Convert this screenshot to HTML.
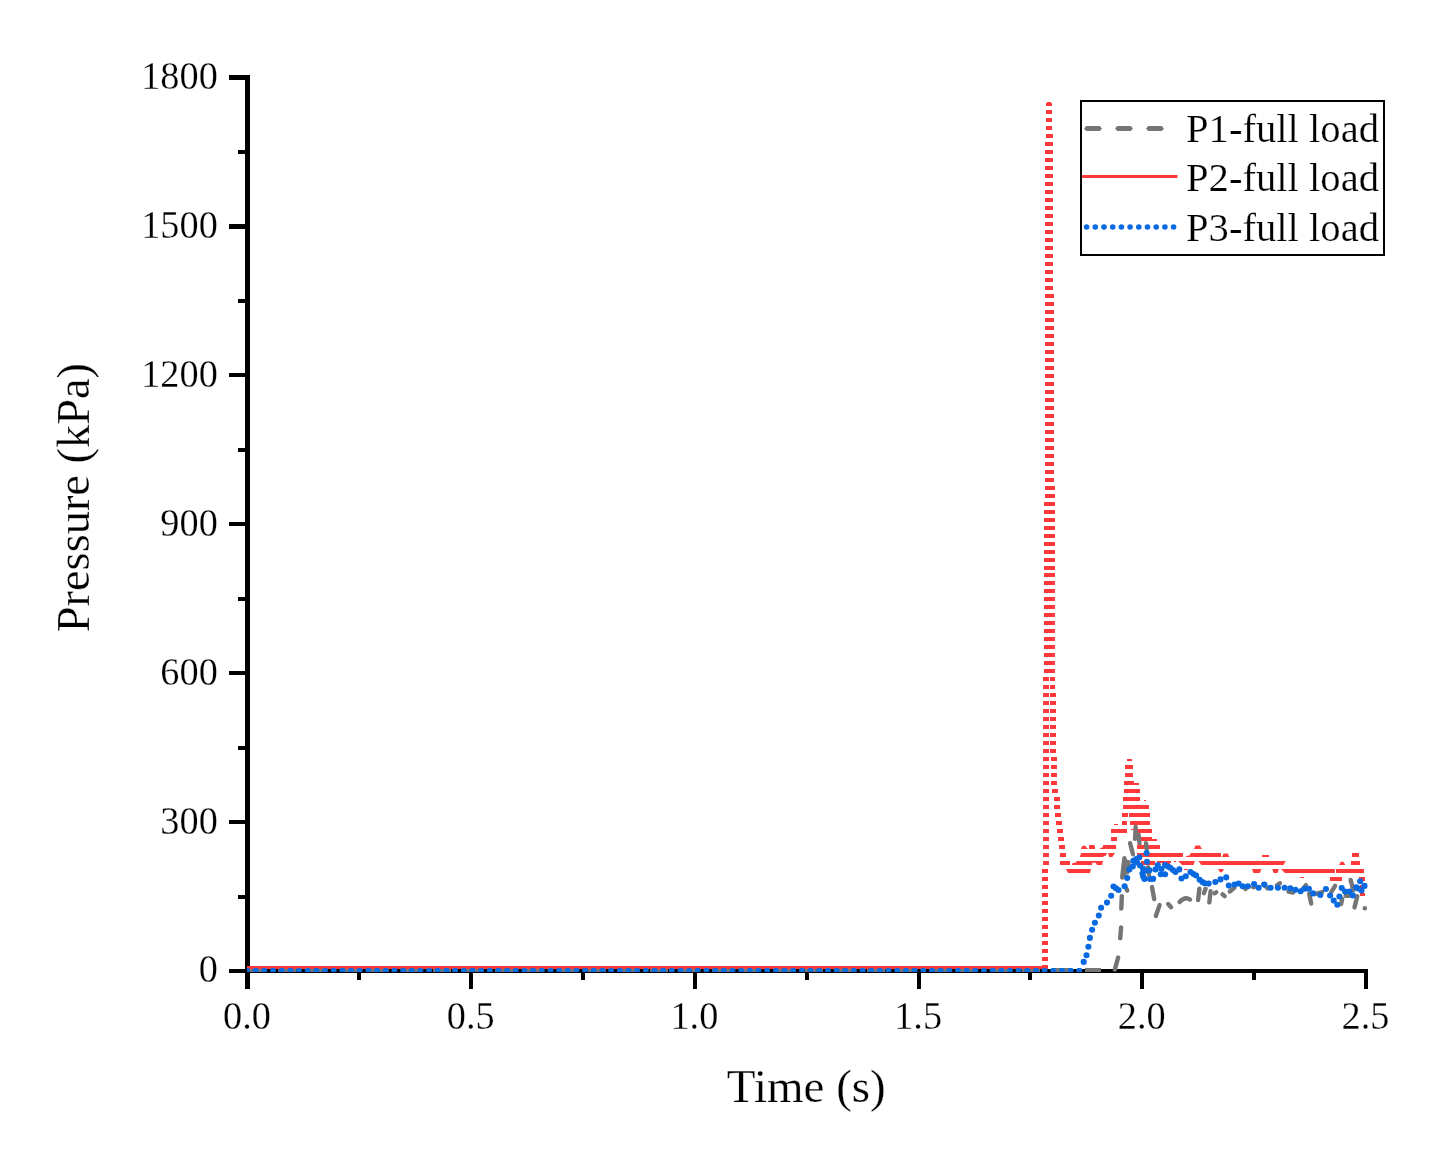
<!DOCTYPE html>
<html><head><meta charset="utf-8"><title>Pressure vs Time</title>
<style>
html,body{margin:0;padding:0;background:#fff;}
svg{display:block;}
text{font-family:"Liberation Serif","Times New Roman",serif;fill:#000;stroke:#fff;stroke-width:0.25px;paint-order:fill stroke;}
.tk{font-size:38.3px;}
.ti{font-size:47px;}
.yl{font-size:46.4px;}
.lg{font-size:39.8px;}
</style></head><body>
<svg width="1454" height="1161" viewBox="0 0 1454 1161">
<rect x="0" y="0" width="1454" height="1161" fill="#fff"/>

<g fill="#000" shape-rendering="crispEdges">
<rect x="245" y="75" width="5" height="914"/>
<rect x="245" y="969" width="1123" height="4"/>
<rect x="229" y="969" width="17" height="4"/>
<rect x="229" y="820" width="17" height="4"/>
<rect x="229" y="671" width="17" height="4"/>
<rect x="229" y="522" width="17" height="4"/>
<rect x="229" y="373" width="17" height="4"/>
<rect x="229" y="224" width="17" height="5"/>
<rect x="229" y="75" width="17" height="5"/>
<rect x="238" y="895" width="8" height="4"/>
<rect x="238" y="746" width="8" height="4"/>
<rect x="238" y="597" width="8" height="4"/>
<rect x="238" y="448" width="8" height="4"/>
<rect x="238" y="299" width="8" height="4"/>
<rect x="238" y="150" width="8" height="4"/>
<rect x="469" y="969" width="4" height="20"/>
<rect x="693" y="969" width="4" height="20"/>
<rect x="917" y="969" width="4" height="20"/>
<rect x="1140" y="969" width="4" height="20"/>
<rect x="1364" y="969" width="4" height="20"/>
<rect x="357" y="969" width="4" height="11"/>
<rect x="581" y="969" width="4" height="11"/>
<rect x="805" y="969" width="4" height="11"/>
<rect x="1028" y="969" width="4" height="11"/>
<rect x="1252" y="969" width="4" height="11"/>
</g>
<text class="tk" transform="translate(217.8,982.3) scale(1,1.035)" text-anchor="end">0</text>
<text class="tk" transform="translate(217.8,833.5) scale(1,1.035)" text-anchor="end">300</text>
<text class="tk" transform="translate(217.8,684.6) scale(1,1.035)" text-anchor="end">600</text>
<text class="tk" transform="translate(217.8,535.8) scale(1,1.035)" text-anchor="end">900</text>
<text class="tk" transform="translate(217.8,387.0) scale(1,1.035)" text-anchor="end">1200</text>
<text class="tk" transform="translate(217.8,238.1) scale(1,1.035)" text-anchor="end">1500</text>
<text class="tk" transform="translate(217.8,89.3) scale(1,1.035)" text-anchor="end">1800</text>
<text class="tk" transform="translate(247.0,1029) scale(1,1.035)" text-anchor="middle">0.0</text>
<text class="tk" transform="translate(470.7,1029) scale(1,1.035)" text-anchor="middle">0.5</text>
<text class="tk" transform="translate(694.4,1029) scale(1,1.035)" text-anchor="middle">1.0</text>
<text class="tk" transform="translate(918.1,1029) scale(1,1.035)" text-anchor="middle">1.5</text>
<text class="tk" transform="translate(1141.8,1029) scale(1,1.035)" text-anchor="middle">2.0</text>
<text class="tk" transform="translate(1365.5,1029) scale(1,1.035)" text-anchor="middle">2.5</text>
<text class="ti" x="806.3" y="1102" text-anchor="middle">Time (s)</text>
<text class="yl" transform="translate(89.2,497.6) rotate(-90)" text-anchor="middle">Pressure (kPa)</text>
<clipPath id="cp"><rect x="247" y="70" width="1125" height="902"/></clipPath>
<g clip-path="url(#cp)">
<path d="M247 970.5 H1080" stroke="#757575" stroke-width="5" fill="none" stroke-dasharray="18 13"/>
<path d="M1085 970.5 H1101" stroke="#757575" stroke-width="5" fill="none"/>
<g fill="#FF3939" shape-rendering="crispEdges">
<rect x="247" y="966" width="800" height="3"/>
<rect x="1042" y="965" width="6" height="4"/>
<rect x="1042" y="957" width="6" height="4"/>
<rect x="1042" y="949" width="6" height="4"/>
<rect x="1042" y="941" width="6" height="4"/>
<rect x="1042" y="933" width="6" height="4"/>
<rect x="1042" y="925" width="6" height="4"/>
<rect x="1042" y="917" width="6" height="4"/>
<rect x="1042" y="909" width="6" height="4"/>
<rect x="1042" y="901" width="6" height="4"/>
<rect x="1042" y="893" width="6" height="4"/>
<rect x="1360" y="893" width="5" height="3"/>
<rect x="1042" y="885" width="6" height="4"/>
<rect x="1360" y="885" width="5" height="4"/>
<rect x="1042" y="877" width="6" height="4"/>
<rect x="1300" y="877" width="4" height="1.2"/>
<rect x="1330" y="877" width="12" height="4"/>
<rect x="1359" y="877" width="6" height="4"/>
<rect x="1042" y="869" width="6" height="4"/>
<rect x="1184" y="869" width="4" height="1.2"/>
<rect x="1336" y="869" width="28" height="4"/>
<rect x="1043" y="861" width="6" height="4"/>
<rect x="1060" y="861" width="10" height="4"/>
<rect x="1141" y="861" width="14" height="4"/>
<rect x="1157" y="861" width="14" height="1.6"/>
<rect x="1162" y="861" width="8" height="2.8"/>
<rect x="1174" y="861" width="2" height="1"/>
<rect x="1351" y="861" width="9" height="4"/>
<rect x="1043" y="853" width="6" height="4"/>
<rect x="1060" y="853" width="6" height="4"/>
<rect x="1137" y="853" width="46" height="4"/>
<rect x="1262" y="855" width="7" height="2"/>
<rect x="1352" y="853" width="7" height="4"/>
<rect x="1043" y="845" width="6" height="4"/>
<rect x="1059" y="845" width="6" height="4"/>
<rect x="1137" y="845" width="23" height="4"/>
<rect x="1043" y="837" width="6" height="4"/>
<rect x="1058" y="837" width="6" height="4"/>
<rect x="1111" y="837" width="6" height="4"/>
<rect x="1137" y="837" width="15" height="4"/>
<rect x="1152" y="839" width="5" height="2"/>
<rect x="1043" y="829" width="6" height="4"/>
<rect x="1057" y="829" width="6" height="4"/>
<rect x="1111" y="829" width="16" height="4"/>
<rect x="1131" y="829" width="4" height="0.8"/>
<rect x="1136" y="829" width="16" height="4"/>
<rect x="1043" y="821" width="6" height="4"/>
<rect x="1056" y="821" width="6" height="4"/>
<rect x="1114" y="824" width="4" height="1"/>
<rect x="1122" y="821" width="5" height="4"/>
<rect x="1130" y="821" width="20" height="4"/>
<rect x="1043" y="813" width="6" height="4"/>
<rect x="1055" y="813" width="6" height="4"/>
<rect x="1122" y="813" width="6" height="4"/>
<rect x="1129" y="813" width="21" height="4"/>
<rect x="1043" y="805" width="6" height="4"/>
<rect x="1054" y="805" width="6" height="4"/>
<rect x="1123" y="805" width="26" height="4"/>
<rect x="1043" y="797" width="6" height="4"/>
<rect x="1054" y="797" width="6" height="4"/>
<rect x="1123" y="797" width="17" height="4"/>
<rect x="1144" y="799.8" width="2" height="1.2000000000000002"/>
<rect x="1043" y="789" width="6" height="4"/>
<rect x="1052" y="789" width="6" height="4"/>
<rect x="1124" y="789" width="16" height="4"/>
<rect x="1043" y="781" width="6" height="4"/>
<rect x="1051" y="781" width="6" height="4"/>
<rect x="1124" y="781" width="10" height="4"/>
<rect x="1134" y="783" width="5" height="2"/>
<rect x="1043" y="773" width="6" height="4"/>
<rect x="1051" y="773" width="6" height="4"/>
<rect x="1125" y="773" width="8" height="4"/>
<rect x="1043" y="765" width="6" height="4"/>
<rect x="1051" y="765" width="6" height="4"/>
<rect x="1125" y="765" width="8" height="4"/>
<rect x="1043" y="757" width="6" height="4"/>
<rect x="1051" y="757" width="6" height="4"/>
<rect x="1127" y="759" width="5" height="2"/>
<rect x="1043" y="749" width="6" height="4"/>
<rect x="1050" y="749" width="6" height="4"/>
<rect x="1043" y="741" width="6" height="4"/>
<rect x="1050" y="741" width="6" height="4"/>
<rect x="1043" y="733" width="6" height="4"/>
<rect x="1050" y="733" width="6" height="4"/>
<rect x="1043" y="725" width="6" height="4"/>
<rect x="1050" y="725" width="6" height="4"/>
<rect x="1043" y="717" width="6" height="4"/>
<rect x="1050" y="717" width="6" height="4"/>
<rect x="1043" y="709" width="6" height="4"/>
<rect x="1050" y="709" width="6" height="4"/>
<rect x="1043" y="701" width="6" height="4"/>
<rect x="1050" y="701" width="6" height="4"/>
<rect x="1043" y="693" width="6" height="4"/>
<rect x="1050" y="693" width="6" height="4"/>
<rect x="1043" y="685" width="6" height="4"/>
<rect x="1050" y="685" width="5" height="4"/>
<rect x="1043" y="677" width="6" height="4"/>
<rect x="1050" y="677" width="5" height="4"/>
<rect x="1044" y="669" width="6" height="4"/>
<rect x="1049" y="669" width="6" height="4"/>
<rect x="1044" y="661" width="6" height="4"/>
<rect x="1049" y="661" width="6" height="4"/>
<rect x="1044" y="653" width="6" height="4"/>
<rect x="1049" y="653" width="6" height="4"/>
<rect x="1044" y="645" width="6" height="4"/>
<rect x="1049" y="645" width="6" height="4"/>
<rect x="1044" y="637" width="6" height="4"/>
<rect x="1049" y="637" width="6" height="4"/>
<rect x="1044" y="629" width="6" height="4"/>
<rect x="1049" y="629" width="6" height="4"/>
<rect x="1044" y="621" width="6" height="4"/>
<rect x="1049" y="621" width="6" height="4"/>
<rect x="1044" y="613" width="6" height="4"/>
<rect x="1049" y="613" width="6" height="4"/>
<rect x="1044" y="605" width="6" height="4"/>
<rect x="1049" y="605" width="6" height="4"/>
<rect x="1044" y="597" width="6" height="4"/>
<rect x="1049" y="597" width="6" height="4"/>
<rect x="1044" y="589" width="6" height="4"/>
<rect x="1049" y="589" width="6" height="4"/>
<rect x="1044" y="581" width="6" height="4"/>
<rect x="1049" y="581" width="6" height="4"/>
<rect x="1044" y="573" width="6" height="4"/>
<rect x="1049" y="573" width="6" height="4"/>
<rect x="1044" y="566" width="6" height="4"/>
<rect x="1049" y="566" width="6" height="4"/>
<rect x="1044" y="558" width="6" height="4"/>
<rect x="1049" y="558" width="6" height="4"/>
<rect x="1044" y="550" width="6" height="4"/>
<rect x="1049" y="550" width="6" height="4"/>
<rect x="1044" y="542" width="6" height="4"/>
<rect x="1049" y="542" width="6" height="4"/>
<rect x="1044" y="534" width="6" height="4"/>
<rect x="1049" y="534" width="6" height="4"/>
<rect x="1044" y="526" width="6" height="4"/>
<rect x="1049" y="526" width="6" height="4"/>
<rect x="1044" y="518" width="6" height="4"/>
<rect x="1049" y="518" width="6" height="4"/>
<rect x="1044" y="510" width="6" height="4"/>
<rect x="1049" y="510" width="6" height="4"/>
<rect x="1044" y="502" width="6" height="4"/>
<rect x="1049" y="502" width="6" height="4"/>
<rect x="1045" y="494" width="6" height="4"/>
<rect x="1049" y="494" width="6" height="4"/>
<rect x="1045" y="486" width="6" height="4"/>
<rect x="1049" y="486" width="6" height="4"/>
<rect x="1045" y="478" width="6" height="4"/>
<rect x="1048" y="478" width="6" height="4"/>
<rect x="1045" y="470" width="6" height="4"/>
<rect x="1048" y="470" width="6" height="4"/>
<rect x="1045" y="462" width="6" height="4"/>
<rect x="1048" y="462" width="6" height="4"/>
<rect x="1045" y="454" width="6" height="4"/>
<rect x="1048" y="454" width="6" height="4"/>
<rect x="1045" y="446" width="6" height="4"/>
<rect x="1048" y="446" width="6" height="4"/>
<rect x="1045" y="438" width="6" height="4"/>
<rect x="1048" y="438" width="6" height="4"/>
<rect x="1045" y="430" width="6" height="4"/>
<rect x="1048" y="430" width="6" height="4"/>
<rect x="1045" y="422" width="6" height="4"/>
<rect x="1048" y="422" width="6" height="4"/>
<rect x="1045" y="414" width="6" height="4"/>
<rect x="1048" y="414" width="6" height="4"/>
<rect x="1045" y="406" width="6" height="4"/>
<rect x="1048" y="406" width="6" height="4"/>
<rect x="1045" y="398" width="6" height="4"/>
<rect x="1048" y="398" width="6" height="4"/>
<rect x="1045" y="390" width="6" height="4"/>
<rect x="1048" y="390" width="6" height="4"/>
<rect x="1045" y="382" width="6" height="4"/>
<rect x="1048" y="382" width="6" height="4"/>
<rect x="1045" y="374" width="6" height="4"/>
<rect x="1048" y="374" width="6" height="4"/>
<rect x="1045" y="366" width="6" height="4"/>
<rect x="1048" y="366" width="6" height="4"/>
<rect x="1045" y="358" width="6" height="4"/>
<rect x="1048" y="358" width="6" height="4"/>
<rect x="1045" y="350" width="6" height="4"/>
<rect x="1048" y="350" width="6" height="4"/>
<rect x="1045" y="342" width="6" height="4"/>
<rect x="1048" y="342" width="6" height="4"/>
<rect x="1045" y="334" width="6" height="4"/>
<rect x="1048" y="334" width="6" height="4"/>
<rect x="1045" y="326" width="6" height="4"/>
<rect x="1048" y="326" width="6" height="4"/>
<rect x="1045" y="318" width="6" height="4"/>
<rect x="1048" y="318" width="6" height="4"/>
<rect x="1045" y="310" width="6" height="4"/>
<rect x="1048" y="310" width="6" height="4"/>
<rect x="1045" y="302" width="6" height="4"/>
<rect x="1048" y="302" width="6" height="4"/>
<rect x="1045" y="294" width="6" height="4"/>
<rect x="1048" y="294" width="6" height="4"/>
<rect x="1045" y="286" width="6" height="4"/>
<rect x="1047" y="286" width="6" height="4"/>
<rect x="1045" y="278" width="6" height="4"/>
<rect x="1047" y="278" width="6" height="4"/>
<rect x="1045" y="270" width="6" height="4"/>
<rect x="1047" y="270" width="6" height="4"/>
<rect x="1045" y="262" width="6" height="4"/>
<rect x="1047" y="262" width="6" height="4"/>
<rect x="1045" y="254" width="6" height="4"/>
<rect x="1047" y="254" width="6" height="4"/>
<rect x="1045" y="246" width="6" height="4"/>
<rect x="1047" y="246" width="6" height="4"/>
<rect x="1045" y="238" width="6" height="4"/>
<rect x="1047" y="238" width="6" height="4"/>
<rect x="1045" y="230" width="6" height="4"/>
<rect x="1047" y="230" width="6" height="4"/>
<rect x="1045" y="222" width="6" height="4"/>
<rect x="1047" y="222" width="6" height="4"/>
<rect x="1045" y="214" width="6" height="4"/>
<rect x="1047" y="214" width="6" height="4"/>
<rect x="1045" y="206" width="6" height="4"/>
<rect x="1047" y="206" width="6" height="4"/>
<rect x="1045" y="198" width="6" height="4"/>
<rect x="1047" y="198" width="6" height="4"/>
<rect x="1045" y="190" width="6" height="4"/>
<rect x="1047" y="190" width="6" height="4"/>
<rect x="1045" y="182" width="6" height="4"/>
<rect x="1047" y="182" width="6" height="4"/>
<rect x="1045" y="174" width="6" height="4"/>
<rect x="1047" y="174" width="6" height="4"/>
<rect x="1045" y="166" width="6" height="4"/>
<rect x="1047" y="166" width="6" height="4"/>
<rect x="1045" y="158" width="6" height="4"/>
<rect x="1047" y="158" width="6" height="4"/>
<rect x="1045" y="150" width="6" height="4"/>
<rect x="1047" y="150" width="6" height="4"/>
<rect x="1045" y="142" width="6" height="4"/>
<rect x="1047" y="142" width="6" height="4"/>
<rect x="1046" y="134" width="6" height="4"/>
<rect x="1047" y="134" width="6" height="4"/>
<rect x="1046" y="126" width="6" height="4"/>
<rect x="1046" y="126" width="6" height="4"/>
<rect x="1046" y="118" width="6" height="4"/>
<rect x="1046" y="118" width="6" height="4"/>
<rect x="1046" y="110" width="6" height="4"/>
<rect x="1046" y="110" width="6" height="4"/>
<rect x="1047" y="102" width="4" height="1"/><rect x="1046" y="103" width="6" height="3"/>
</g>
<g fill="#FF3939">
<polygon points="1066,869.0 1091,869.0 1090,873.0 1068,873.0"/>
<polygon points="1218,869.0 1224,869.0 1222,872.2 1220,872.2"/>
<polygon points="1252,869.0 1261.3,869.0 1259.8,873.0 1253.5,873.0"/>
<polygon points="1272.2,869.0 1278.9,869.0 1277.6,873.0 1273.6,873.0"/>
<polygon points="1281,869.0 1334.8,869.0 1334.8,873.0 1285,873.0"/>
<polygon points="1072,865.0 1072.6,863.0 1076.2,862.6 1076.6,861.0 1103,861.0 1102,865.0 1097,865.0 1095.5,862.8 1092.2,862.8 1092,865.0"/>
<polygon points="1178.2,861.0 1194.8,861.0 1193.4,865.0 1182,865.0"/>
<polygon points="1198.3,861.0 1285.6,861.0 1283.5,865.0 1201.5,865.0"/>
<polygon points="1339,865.0 1340.8,861.8 1343.5,861.8 1345.3,865.0"/>
<polygon points="1080,857.0 1080.4,855.0 1081.2,853.0 1106.8,853.0 1106.6,855.0 1102.6,857.0"/>
<polygon points="1108,853.0 1115,853.0 1112.3,857.0 1109.2,857.0"/>
<polygon points="1186,857.0 1186,856.0 1189.5,855.6 1190.8,853.0 1221,853.0 1221,857.0"/>
<polygon points="1222,857.0 1223.5,853.5 1227.8,853.5 1229.3,857.0"/>
<polygon points="1081,849.0 1082,846.2 1083,845.8 1085.2,845.8 1088,849.0"/>
<polygon points="1089,845.0 1094,845.0 1095,846.2 1095,849.0 1089,849.0"/>
<polygon points="1100,849.0 1100,848.0 1102.6,847.6 1103.2,845.0 1116,845.0 1116,849.0"/>
<polygon points="1194,849.0 1195.5,845.5 1200,845.5 1201.8,849.0"/>
</g>
<g stroke="#757575" stroke-width="4.4" stroke-linecap="round" fill="none">
<path d="M1114.8 969.6L1118.1 957.6"/>
<path d="M1120.2 938.3L1121.1 927.4"/>
<path d="M1121.3 908.5L1121.8 896.1"/>
<path d="M1126.5 888.7L1127.2 890.6"/>
<path d="M1124.4 858.2L1122.2 877.6"/>
<path d="M1125.8 861.3L1124.2 874.7"/>
<path d="M1128.4 862.1L1127.3 872.4"/>
<path d="M1130.1 843.2L1133.0 854.3"/>
<path d="M1135.7 826.8L1135.1 838.8"/>
<path d="M1138.6 834.6L1139.5 843.2"/>
<path d="M1145.9 843.2L1146.8 849.2"/>
<path d="M1148.1 867.3L1149.0 875.0"/>
<path d="M1152.0 887.1L1154.2 899.1"/>
<path d="M1159.6 905.1L1155.8 916.0"/>
<path d="M1168.2 904.0L1171.1 907.2"/>
<path d="M1199.4 888.8L1198.1 900.0"/>
<path d="M1205.6 888.7L1203.9 893.2"/>
<path d="M1210.6 891.3L1209.3 902.4"/>
<path d="M1214.5 893.3L1216.2 892.4"/>
<path d="M1222.5 894.3L1224.7 896.1"/>
<path d="M1229.8 891.5L1234.5 887.6"/>
<path d="M1245.0 888.6L1245.7 888.9"/>
<path d="M1253.2 887.3L1255.0 886.6"/>
<path d="M1263.3 884.0L1267.7 888.4"/>
<path d="M1276.9 885.4L1279.9 883.3"/>
<path d="M1288.5 891.6L1293.1 892.6"/>
<path d="M1302.5 889.3L1306.0 885.1"/>
<path d="M1309.2 893.7L1311.2 903.5"/>
<path d="M1314.8 894.1L1322.1 892.1"/>
<path d="M1331.2 892.1L1335.1 885.9"/>
<path d="M1341.1 904.0L1342.2 898.8"/>
<path d="M1345.6 895.8L1349.0 895.8"/>
<path d="M1350.6 879.9L1353.4 890.2"/>
<path d="M1354.5 907.4L1357.3 896.2"/>
<path d="M1364.8 908.3L1364.9 908.3"/>
<path d="M1179.6 902 Q1184.9 896 1190 899.5"/>
</g>
<g fill="#0869E0">
<path d="M244.2 972V969.2L245.3 968H248.7L249.8 969.2V972Z"/>
<path d="M252.9 972V969.2L254.0 968H257.4L258.5 969.2V972Z"/>
<path d="M261.5 972V969.2L262.6 968H266.0L267.1 969.2V972Z"/>
<path d="M270.2 972V969.2L271.3 968H274.7L275.8 969.2V972Z"/>
<path d="M278.9 972V969.2L280.0 968H283.4L284.5 969.2V972Z"/>
<path d="M287.6 972V969.2L288.7 968H292.1L293.2 969.2V972Z"/>
<path d="M296.2 972V969.2L297.3 968H300.7L301.8 969.2V972Z"/>
<path d="M304.9 972V969.2L306.0 968H309.4L310.5 969.2V972Z"/>
<path d="M313.6 972V969.2L314.7 968H318.1L319.2 969.2V972Z"/>
<path d="M322.2 972V969.2L323.3 968H326.7L327.8 969.2V972Z"/>
<path d="M330.9 972V969.2L332.0 968H335.4L336.5 969.2V972Z"/>
<path d="M339.6 972V969.2L340.7 968H344.1L345.2 969.2V972Z"/>
<path d="M348.2 972V969.2L349.3 968H352.7L353.8 969.2V972Z"/>
<path d="M356.9 972V969.2L358.0 968H361.4L362.5 969.2V972Z"/>
<path d="M365.6 972V969.2L366.7 968H370.1L371.2 969.2V972Z"/>
<path d="M374.3 972V969.2L375.4 968H378.8L379.9 969.2V972Z"/>
<path d="M382.9 972V969.2L384.0 968H387.4L388.5 969.2V972Z"/>
<path d="M391.6 972V969.2L392.7 968H396.1L397.2 969.2V972Z"/>
<path d="M400.3 972V969.2L401.4 968H404.8L405.9 969.2V972Z"/>
<path d="M408.9 972V969.2L410.0 968H413.4L414.5 969.2V972Z"/>
<path d="M417.6 972V969.2L418.7 968H422.1L423.2 969.2V972Z"/>
<path d="M426.3 972V969.2L427.4 968H430.8L431.9 969.2V972Z"/>
<path d="M434.9 972V969.2L436.0 968H439.4L440.5 969.2V972Z"/>
<path d="M443.6 972V969.2L444.7 968H448.1L449.2 969.2V972Z"/>
<path d="M452.3 972V969.2L453.4 968H456.8L457.9 969.2V972Z"/>
<path d="M461.0 972V969.2L462.1 968H465.5L466.6 969.2V972Z"/>
<path d="M469.6 972V969.2L470.7 968H474.1L475.2 969.2V972Z"/>
<path d="M478.3 972V969.2L479.4 968H482.8L483.9 969.2V972Z"/>
<path d="M487.0 972V969.2L488.1 968H491.5L492.6 969.2V972Z"/>
<path d="M495.6 972V969.2L496.7 968H500.1L501.2 969.2V972Z"/>
<path d="M504.3 972V969.2L505.4 968H508.8L509.9 969.2V972Z"/>
<path d="M513.0 972V969.2L514.1 968H517.5L518.6 969.2V972Z"/>
<path d="M521.6 972V969.2L522.7 968H526.1L527.2 969.2V972Z"/>
<path d="M530.3 972V969.2L531.4 968H534.8L535.9 969.2V972Z"/>
<path d="M539.0 972V969.2L540.1 968H543.5L544.6 969.2V972Z"/>
<path d="M547.7 972V969.2L548.8 968H552.2L553.3 969.2V972Z"/>
<path d="M556.3 972V969.2L557.4 968H560.8L561.9 969.2V972Z"/>
<path d="M565.0 972V969.2L566.1 968H569.5L570.6 969.2V972Z"/>
<path d="M573.7 972V969.2L574.8 968H578.2L579.3 969.2V972Z"/>
<path d="M582.3 972V969.2L583.4 968H586.8L587.9 969.2V972Z"/>
<path d="M591.0 972V969.2L592.1 968H595.5L596.6 969.2V972Z"/>
<path d="M599.7 972V969.2L600.8 968H604.2L605.3 969.2V972Z"/>
<path d="M608.3 972V969.2L609.4 968H612.8L613.9 969.2V972Z"/>
<path d="M617.0 972V969.2L618.1 968H621.5L622.6 969.2V972Z"/>
<path d="M625.7 972V969.2L626.8 968H630.2L631.3 969.2V972Z"/>
<path d="M634.3 972V969.2L635.4 968H638.8L639.9 969.2V972Z"/>
<path d="M643.0 972V969.2L644.1 968H647.5L648.6 969.2V972Z"/>
<path d="M651.7 972V969.2L652.8 968H656.2L657.3 969.2V972Z"/>
<path d="M660.4 972V969.2L661.5 968H664.9L666.0 969.2V972Z"/>
<path d="M669.0 972V969.2L670.1 968H673.5L674.6 969.2V972Z"/>
<path d="M677.7 972V969.2L678.8 968H682.2L683.3 969.2V972Z"/>
<path d="M686.4 972V969.2L687.5 968H690.9L692.0 969.2V972Z"/>
<path d="M695.0 972V969.2L696.1 968H699.5L700.6 969.2V972Z"/>
<path d="M703.7 972V969.2L704.8 968H708.2L709.3 969.2V972Z"/>
<path d="M712.4 972V969.2L713.5 968H716.9L718.0 969.2V972Z"/>
<path d="M721.0 972V969.2L722.1 968H725.5L726.6 969.2V972Z"/>
<path d="M729.7 972V969.2L730.8 968H734.2L735.3 969.2V972Z"/>
<path d="M738.4 972V969.2L739.5 968H742.9L744.0 969.2V972Z"/>
<path d="M747.1 972V969.2L748.2 968H751.6L752.7 969.2V972Z"/>
<path d="M755.7 972V969.2L756.8 968H760.2L761.3 969.2V972Z"/>
<path d="M764.4 972V969.2L765.5 968H768.9L770.0 969.2V972Z"/>
<path d="M773.1 972V969.2L774.2 968H777.6L778.7 969.2V972Z"/>
<path d="M781.7 972V969.2L782.8 968H786.2L787.3 969.2V972Z"/>
<path d="M790.4 972V969.2L791.5 968H794.9L796.0 969.2V972Z"/>
<path d="M799.1 972V969.2L800.2 968H803.6L804.7 969.2V972Z"/>
<path d="M807.7 972V969.2L808.8 968H812.2L813.3 969.2V972Z"/>
<path d="M816.4 972V969.2L817.5 968H820.9L822.0 969.2V972Z"/>
<path d="M825.1 972V969.2L826.2 968H829.6L830.7 969.2V972Z"/>
<path d="M833.8 972V969.2L834.9 968H838.3L839.4 969.2V972Z"/>
<path d="M842.4 972V969.2L843.5 968H846.9L848.0 969.2V972Z"/>
<path d="M851.1 972V969.2L852.2 968H855.6L856.7 969.2V972Z"/>
<path d="M859.8 972V969.2L860.9 968H864.3L865.4 969.2V972Z"/>
<path d="M868.4 972V969.2L869.5 968H872.9L874.0 969.2V972Z"/>
<path d="M877.1 972V969.2L878.2 968H881.6L882.7 969.2V972Z"/>
<path d="M885.8 972V969.2L886.9 968H890.3L891.4 969.2V972Z"/>
<path d="M894.4 972V969.2L895.5 968H898.9L900.0 969.2V972Z"/>
<path d="M903.1 972V969.2L904.2 968H907.6L908.7 969.2V972Z"/>
<path d="M911.8 972V969.2L912.9 968H916.3L917.4 969.2V972Z"/>
<path d="M920.5 972V969.2L921.6 968H925.0L926.1 969.2V972Z"/>
<path d="M929.1 972V969.2L930.2 968H933.6L934.7 969.2V972Z"/>
<path d="M937.8 972V969.2L938.9 968H942.3L943.4 969.2V972Z"/>
<path d="M946.5 972V969.2L947.6 968H951.0L952.1 969.2V972Z"/>
<path d="M955.1 972V969.2L956.2 968H959.6L960.7 969.2V972Z"/>
<path d="M963.8 972V969.2L964.9 968H968.3L969.4 969.2V972Z"/>
<path d="M972.5 972V969.2L973.6 968H977.0L978.1 969.2V972Z"/>
<path d="M981.1 972V969.2L982.2 968H985.6L986.7 969.2V972Z"/>
<path d="M989.8 972V969.2L990.9 968H994.3L995.4 969.2V972Z"/>
<path d="M998.5 972V969.2L999.6 968H1003.0L1004.1 969.2V972Z"/>
<path d="M1007.2 972V969.2L1008.3 968H1011.7L1012.8 969.2V972Z"/>
<path d="M1015.8 972V969.2L1016.9 968H1020.3L1021.4 969.2V972Z"/>
<path d="M1024.5 972V969.2L1025.6 968H1029.0L1030.1 969.2V972Z"/>
<path d="M1033.2 972V969.2L1034.3 968H1037.7L1038.8 969.2V972Z"/>
<path d="M1041.8 972V969.2L1042.9 968H1046.3L1047.4 969.2V972Z"/>
<path d="M1050.5 972V969.2L1051.6 968H1055.0L1056.1 969.2V972Z"/>
<path d="M1059.2 972V969.2L1060.3 968H1063.7L1064.8 969.2V972Z"/>
<path d="M1067.8 972V969.2L1068.9 968H1072.3L1073.4 969.2V972Z"/>
<path d="M1076.5 972V969.2L1077.6 968H1081.0L1082.1 969.2V972Z"/>
<circle cx="1083.7" cy="961.9" r="3.05"/>
<circle cx="1086.5" cy="955.2" r="3.05"/>
<circle cx="1088.4" cy="946.8" r="3.05"/>
<circle cx="1089.9" cy="937.9" r="3.05"/>
<circle cx="1092.1" cy="929.7" r="3.05"/>
<circle cx="1094.9" cy="922.8" r="3.05"/>
<circle cx="1098.8" cy="915.5" r="3.05"/>
<circle cx="1101.1" cy="907.7" r="3.05"/>
<circle cx="1107.0" cy="902.6" r="3.05"/>
<circle cx="1111.2" cy="895.7" r="3.05"/>
<circle cx="1113.5" cy="886.6" r="3.05"/>
<circle cx="1116.0" cy="888.3" r="3.05"/>
<circle cx="1118.5" cy="890.0" r="3.05"/>
<circle cx="1124.6" cy="886.2" r="3.05"/>
<circle cx="1127.2" cy="878.0" r="3.05"/>
<circle cx="1129.4" cy="869.4" r="3.05"/>
<circle cx="1132.8" cy="866.4" r="3.05"/>
<circle cx="1133.3" cy="860.8" r="3.05"/>
<circle cx="1136.3" cy="859.0" r="3.05"/>
<circle cx="1139.3" cy="857.4" r="3.05"/>
<circle cx="1146.6" cy="853.1" r="3.05"/>
<circle cx="1147.0" cy="861.7" r="3.05"/>
<circle cx="1137.0" cy="862.5" r="3.05"/>
<circle cx="1140.0" cy="865.5" r="3.05"/>
<circle cx="1143.0" cy="868.5" r="3.05"/>
<circle cx="1146.0" cy="870.5" r="3.05"/>
<circle cx="1149.6" cy="870.3" r="3.05"/>
<circle cx="1142.5" cy="873.5" r="3.05"/>
<circle cx="1143.2" cy="876.5" r="3.05"/>
<circle cx="1144.5" cy="878.9" r="3.05"/>
<circle cx="1150.0" cy="879.0" r="3.05"/>
<circle cx="1153.1" cy="878.9" r="3.05"/>
<circle cx="1155.6" cy="869.4" r="3.05"/>
<circle cx="1157.8" cy="865.1" r="3.05"/>
<circle cx="1160.8" cy="874.2" r="3.05"/>
<circle cx="1165.1" cy="865.1" r="3.05"/>
<circle cx="1165.1" cy="874.2" r="3.05"/>
<circle cx="1161.5" cy="869.0" r="3.05"/>
<circle cx="1168.0" cy="866.5" r="3.05"/>
<circle cx="1170.3" cy="867.7" r="3.05"/>
<circle cx="1173.0" cy="870.0" r="3.05"/>
<circle cx="1175.5" cy="872.0" r="3.05"/>
<circle cx="1179.3" cy="869.4" r="3.05"/>
<circle cx="1181.5" cy="878.5" r="3.05"/>
<circle cx="1185.8" cy="876.3" r="3.05"/>
<circle cx="1190.5" cy="872.0" r="3.05"/>
<circle cx="1193.5" cy="874.0" r="3.05"/>
<circle cx="1196.1" cy="875.5" r="3.05"/>
<circle cx="1199.6" cy="879.8" r="3.05"/>
<circle cx="1202.4" cy="882.0" r="3.05"/>
<circle cx="1204.7" cy="883.2" r="3.05"/>
<circle cx="1208.6" cy="883.6" r="3.05"/>
<circle cx="1215.3" cy="882.0" r="3.05"/>
<circle cx="1220.5" cy="879.4" r="3.05"/>
<circle cx="1226.2" cy="877.4" r="3.05"/>
<circle cx="1228.8" cy="885.6" r="3.05"/>
<circle cx="1234.5" cy="884.6" r="3.05"/>
<circle cx="1238.6" cy="883.6" r="3.05"/>
<circle cx="1242.7" cy="886.2" r="3.05"/>
<circle cx="1247.9" cy="886.2" r="3.05"/>
<circle cx="1254.1" cy="884.1" r="3.05"/>
<circle cx="1258.7" cy="887.7" r="3.05"/>
<circle cx="1264.4" cy="884.6" r="3.05"/>
<circle cx="1270.6" cy="887.7" r="3.05"/>
<circle cx="1277.9" cy="887.7" r="3.05"/>
<circle cx="1284.6" cy="887.7" r="3.05"/>
<circle cx="1290.3" cy="888.2" r="3.05"/>
<circle cx="1295.4" cy="889.8" r="3.05"/>
<circle cx="1300.6" cy="891.3" r="3.05"/>
<circle cx="1304.8" cy="888.7" r="3.05"/>
<circle cx="1308.9" cy="888.7" r="3.05"/>
<circle cx="1313.0" cy="893.4" r="3.05"/>
<circle cx="1320.3" cy="895.0" r="3.05"/>
<circle cx="1325.9" cy="889.0" r="3.05"/>
<circle cx="1330.1" cy="895.5" r="3.05"/>
<circle cx="1333.7" cy="900.6" r="3.05"/>
<circle cx="1337.3" cy="904.8" r="3.05"/>
<circle cx="1339.4" cy="896.5" r="3.05"/>
<circle cx="1341.7" cy="888.0" r="3.05"/>
<circle cx="1345.1" cy="891.5" r="3.05"/>
<circle cx="1349.4" cy="891.5" r="3.05"/>
<circle cx="1352.9" cy="895.4" r="3.05"/>
<circle cx="1356.3" cy="887.2" r="3.05"/>
<circle cx="1360.2" cy="881.2" r="3.05"/>
<circle cx="1364.5" cy="885.9" r="3.05"/>
<circle cx="1361.5" cy="890.6" r="3.05"/>
<circle cx="1358.0" cy="888.5" r="3.05"/>
</g>
</g>
<rect x="1081" y="101" width="303" height="154" fill="#fff" stroke="#000" stroke-width="2"/>
<g fill="#757575">
<polygon points="1084,128.5 1086.2,126 1099.8,126 1102,128.5 1099.8,131 1086.2,131"/>
<polygon points="1115,128.5 1117.2,126 1130.8,126 1133,128.5 1130.8,131 1117.2,131"/>
<polygon points="1146,128.5 1148.2,126 1161.8,126 1164,128.5 1161.8,131 1148.2,131"/>
</g>
<rect x="1082" y="175" width="95.5" height="3" fill="#FF3939"/>
<g fill="#0869E0">
<circle cx="1086.6" cy="227" r="2.8"/>
<circle cx="1095.3" cy="227" r="2.8"/>
<circle cx="1104.0" cy="227" r="2.8"/>
<circle cx="1112.7" cy="227" r="2.8"/>
<circle cx="1121.4" cy="227" r="2.8"/>
<circle cx="1130.1" cy="227" r="2.8"/>
<circle cx="1138.8" cy="227" r="2.8"/>
<circle cx="1147.5" cy="227" r="2.8"/>
<circle cx="1156.2" cy="227" r="2.8"/>
<circle cx="1164.9" cy="227" r="2.8"/>
<circle cx="1173.6" cy="227" r="2.8"/>
</g>
<text class="lg" transform="translate(1186,141.8) scale(1.021,1)">P1-full load</text>
<text class="lg" transform="translate(1186,191.4) scale(1.021,1)">P2-full load</text>
<text class="lg" transform="translate(1186,241.4) scale(1.021,1)">P3-full load</text>
</svg></body></html>
